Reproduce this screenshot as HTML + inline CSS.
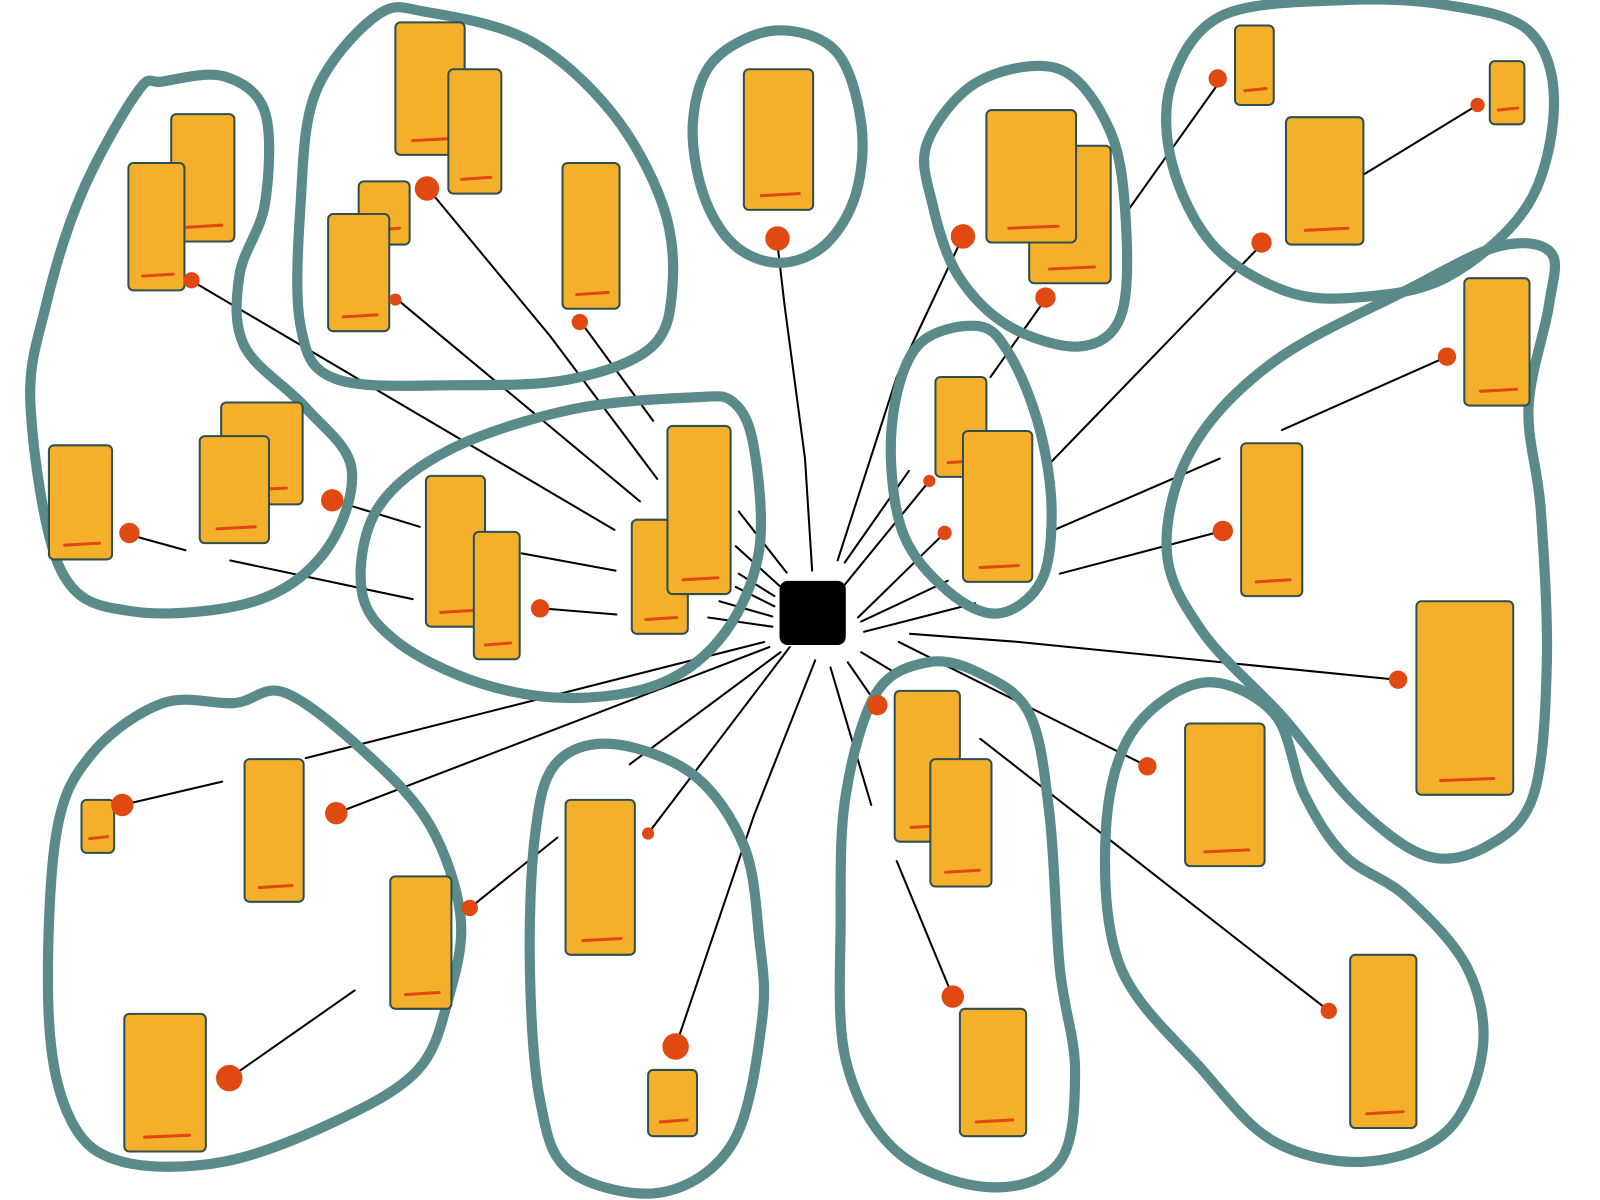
<!DOCTYPE html>
<html><head><meta charset="utf-8">
<style>
html,body{margin:0;padding:0;background:#fff;}
svg{display:block;}
</style></head>
<body>
<svg id="s" width="1600" height="1200" viewBox="0 0 1600 1200" xmlns="http://www.w3.org/2000/svg">
<g transform="scale(1.019)">
<g id="lines" stroke="#000" stroke-width="2" fill="none" stroke-linecap="round"></g>
<g id="blobs" stroke="#5a8a8a" stroke-width="10" fill="none" stroke-linejoin="round"></g>
<g id="rects"></g>
<g id="dots" fill="#e04a12"></g>
<rect x="765" y="570" width="65" height="63" rx="8" fill="#000"/>
</g>
</svg>
<script>
const NS="http://www.w3.org/2000/svg";
function el(t,a,p){const e=document.createElementNS(NS,t);for(const k in a)e.setAttribute(k,a[k]);document.getElementById(p).appendChild(e);return e;}
function smooth(pts){let d="";const n=pts.length;
for(let i=0;i<n;i++){const p0=pts[(i-1+n)%n],p1=pts[i],p2=pts[(i+1)%n],p3=pts[(i+2)%n];
if(i==0)d+="M"+p1[0]+","+p1[1];
const c1=[p1[0]+(p2[0]-p0[0])/6,p1[1]+(p2[1]-p0[1])/6],c2=[p2[0]-(p3[0]-p1[0])/6,p2[1]-(p3[1]-p1[1])/6];
d+=" C"+c1+" "+c2+" "+p2;}return d+"Z";}
const blobs=[
[[135,90],[80,190],[45,300],[30,400],[60,560],[130,600],[250,590],[320,540],[345,460],[300,400],[240,340],[235,270],[260,200],[260,110],[220,75],[160,80]],
[[370,15],[310,90],[295,200],[295,320],[330,372],[450,378],[560,372],[640,340],[660,280],[650,200],[600,110],[520,40],[420,12]],
[[760,30],[700,60],[680,120],[690,190],[720,240],[765,258],[810,240],[840,190],[845,120],[820,50]],
[[1040,68],[960,80],[910,140],[915,200],[940,270],[990,320],[1060,340],[1100,310],[1105,220],[1090,130]],
[[1200,15],[1150,80],[1150,160],[1190,240],[1260,285],[1330,292],[1420,272],[1500,200],[1525,100],[1500,30],[1420,5],[1320,0]],
[[1470,242],[1380,285],[1250,355],[1170,440],[1145,540],[1180,620],[1260,705],[1330,790],[1400,840],[1460,830],[1505,780],[1518,650],[1512,500],[1500,400],[1520,300],[1522,248]],
[[680,390],[560,402],[440,442],[370,500],[355,580],[390,630],[470,670],[560,685],[650,670],[712,620],[745,540],[740,440],[720,395]],
[[960,320],[900,340],[875,420],[885,520],[930,580],[980,602],[1022,570],[1032,500],[1020,420],[992,350]],
[[230,690],[160,690],[90,740],[55,820],[48,1000],[70,1100],[120,1140],[220,1140],[330,1100],[410,1050],[440,980],[452,900],[422,810],[360,740],[280,680]],
[[600,730],[545,750],[525,820],[520,950],[530,1080],[560,1150],[650,1170],[720,1120],[748,1000],[745,920],[730,830],[680,760]],
[[910,650],[860,680],[830,780],[825,900],[830,1040],[880,1130],[970,1165],[1040,1140],[1055,1050],[1040,950],[1030,800],[1010,700],[960,660]],
[[1180,670],[1110,720],[1085,820],[1100,950],[1180,1050],[1250,1120],[1340,1140],[1420,1110],[1455,1030],[1440,950],[1380,880],[1320,840],[1280,780],[1250,700]]
];
blobs.forEach(b=>el("path",{d:smooth(b)},"blobs"));
const lines=[
[[187,275],[603,520]],[[135,527],[182,540]],[[226,550],[405,588]],[[330,492],[412,517]],
[[420,185],[540,330],[645,470]],[[390,294],[628,492]],[[570,316],[641,413]],
[[763,240],[770,300],[790,450],[797,560]],[[945,232],[880,370],[822,550]],
[[1027,292],[972,370]],[[1197,80],[1108,205]],[[1238,240],[1030,455]],[[1450,103],[1337,172]],
[[1420,350],[1258,422]],[[1197,450],[1030,522]],[[1200,521],[1040,563]],
[[1370,667],[1200,650],[1000,630],[893,622]],[[512,543],[604,560]],[[532,597],[605,603]],
[[892,462],[829,552]],[[912,472],[828,575]],[[927,523],[842,606]],[[957,592],[848,620]],[[930,570],[845,610]],
[[725,502],[772,562]],[[722,536],[765,575]],[[725,563],[760,585]],[[722,576],[760,595]],[[706,590],[758,605]],[[695,606],[758,615]],
[[120,790],[218,767]],[[300,744],[750,630]],[[330,798],[755,635]],[[461,891],[547,822]],[[225,1058],[348,972]],
[[618,750],[766,640]],[[636,818],[775,635]],[[663,1027],[740,800],[800,648]],[[855,790],[815,655]],
[[861,692],[832,650]],[[880,845],[935,978]],[[882,630],[1126,752]],[[962,725],[1304,992]],[[845,640],[878,660]]
];
lines.forEach(l=>el("polyline",{points:l.map(p=>p.join(",")).join(" ")},"lines"));
const rects=[
[168,112,62,125],[126,160,55,125],[48,437,62,112],[217,395,80,100],[196,428,68,105],
[388,22,68,130],[440,68,52,122],[352,178,50,62],[322,210,60,115],[552,160,56,143],
[730,68,68,138],[1010,143,80,135],[968,108,88,130],
[1212,25,38,78],[1262,115,76,125],[1462,60,34,62],
[1437,273,64,125],[1218,435,60,150],[1390,590,95,190],
[418,467,58,148],[465,522,45,125],[620,510,55,112],[655,418,62,165],
[918,370,50,98],[945,423,68,148],
[240,745,58,140],[80,785,32,52],[383,860,60,130],[122,995,80,135],
[555,785,68,152],[636,1050,48,65],
[878,678,64,148],[913,745,60,125],[942,990,65,125],
[1163,710,78,140],[1325,937,65,170]
];
rects.forEach(r=>{const[x,y,w,h]=r;
el("rect",{x:x,y:y,width:w,height:h,rx:5,fill:"#f4b02a",stroke:"#2f4f4f","stroke-width":2},"rects");
el("line",{x1:x+w*0.25,y1:y+h-14,x2:x+w*0.8,y2:y+h-16,stroke:"#e04a12","stroke-width":3,"stroke-linecap":"round"},"rects");});
const dots=[[188,275,8],[127,523,10],[326,491,11],[419,185,12],[388,294,6],[569,316,8],[763,234,12],[945,232,12],[1026,292,10],[1195,77,9],[1238,238,10],[1450,103,7],[1420,350,9],[1200,521,10],[1372,667,9],[530,597,9],[912,472,6],[927,523,7],[120,790,11],[330,798,11],[461,891,8],[225,1058,13],[636,818,6],[663,1027,13],[861,692,10],[935,978,11],[1126,752,9],[1304,992,8]];
dots.forEach(d=>el("circle",{cx:d[0],cy:d[1],r:d[2]},"dots"));
</script>
</body></html>
